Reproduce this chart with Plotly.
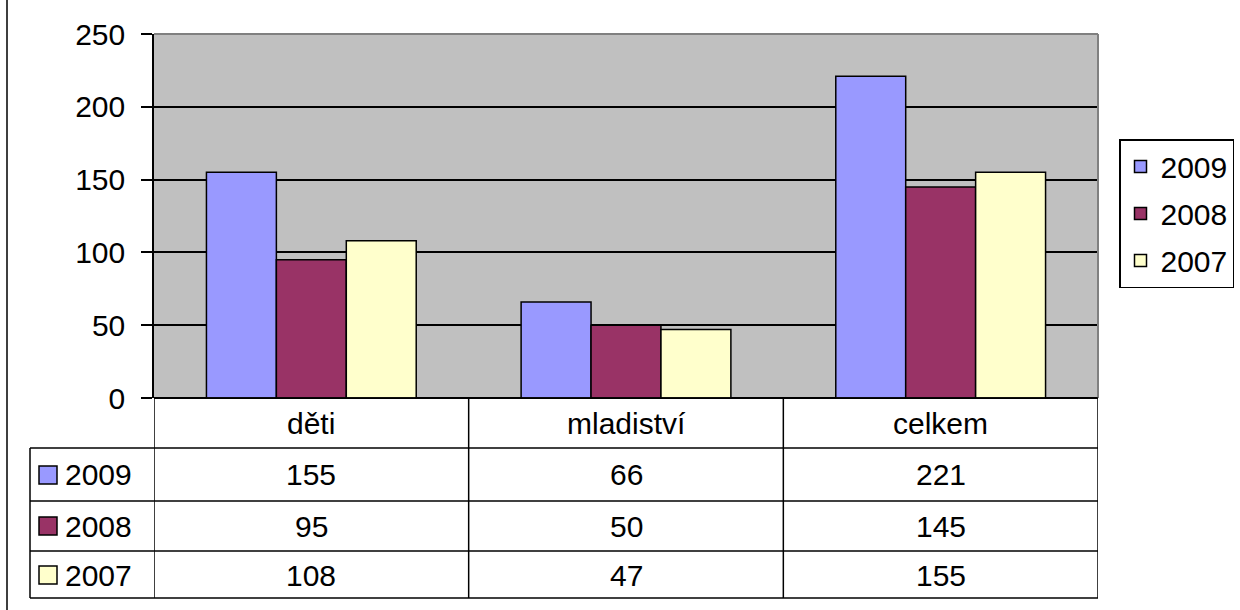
import plotly.graph_objects as go

categories = ["děti", "mladiství", "celkem"]
years = ["2009", "2008", "2007"]
v2009 = [155, 66, 221]
v2008 = [95, 50, 145]
v2007 = [108, 47, 155]
y_ticks = [0, 50, 100, 150, 200, 250]

colors = ["#9999FF", "#993366", "#FFFFCC"]
series = [v2009, v2008, v2007]
FONT = "Liberation Sans, Arial, sans-serif"

# plot area in pixels (figure is 1240x610)
L, R, T, B = 154, 1098, 34, 398
W, H = R - L, B - T


def px(x):
    return (x - L) / W


def py(y):
    return (B - y) / H


fig = go.Figure()
for i, (yr, vals) in enumerate(zip(years, series)):
    fig.add_trace(go.Bar(
        x=list(range(len(categories))), y=vals, name=yr,
        marker=dict(color=colors[i], line=dict(color="black", width=1.5)),
        legendgroup=yr,
    ))

shapes = []
annotations = []

# outer chart border (only left edge visible)
shapes.append(dict(type="rect", xref="paper", yref="paper",
                   x0=px(7), x1=px(1260), y0=py(640), y1=py(-20),
                   line=dict(color="black", width=1.5), layer="below"))
# plot area border top/right gray
shapes.append(dict(type="line", xref="paper", yref="paper", x0=0, x1=1, y0=1, y1=1,
                   line=dict(color="#808080", width=2)))
shapes.append(dict(type="line", xref="paper", yref="paper", x0=1, x1=1, y0=0, y1=1,
                   line=dict(color="#808080", width=2)))

# data table grid
row_edges = [398, 448, 501, 551, 598]
for k, yy in enumerate(row_edges):
    x0 = 0 if k == 0 else px(30)
    shapes.append(dict(type="line", xref="paper", yref="paper", x0=x0, x1=1,
                       y0=py(yy), y1=py(yy), line=dict(color="black", width=1.5)))
shapes.append(dict(type="line", xref="paper", yref="paper", x0=px(30), x1=px(30),
                   y0=py(448), y1=py(598), line=dict(color="black", width=1.5)))
for xb in [-0.5, 0.5, 1.5, 2.5]:
    shapes.append(dict(type="line", xref="x", yref="paper", x0=xb, x1=xb,
                       y0=py(398), y1=py(598), line=dict(color="black", width=1.5)))

tfont = dict(size=30, color="black", family=FONT)

# header row
for j, c in enumerate(categories):
    annotations.append(dict(x=j, y=py(423), xref="x", yref="paper", text=c,
                            xanchor="center", yanchor="middle",
                            showarrow=False, font=tfont))

row_centers = [475, 526, 575]
for i, (yr, vals) in enumerate(zip(years, series)):
    yc = row_centers[i]
    shapes.append(dict(type="rect", xref="paper", yref="paper",
                       x0=px(39), x1=px(57), y0=py(yc + 9), y1=py(yc - 9),
                       fillcolor=colors[i], line=dict(color="black", width=1.5)))
    annotations.append(dict(x=px(63), y=py(yc), xref="paper", yref="paper", text=yr,
                            xanchor="left", yanchor="middle", showarrow=False,
                            font=tfont))
    for j, v in enumerate(vals):
        annotations.append(dict(x=j, y=py(yc), xref="x", yref="paper", text=str(v),
                                xanchor="center", yanchor="middle",
                                showarrow=False, font=tfont))

fig.update_layout(
    width=1240, height=610,
    margin=dict(l=L, r=1240 - R, t=T, b=610 - B, pad=0, autoexpand=False),
    paper_bgcolor="white", plot_bgcolor="#C0C0C0",
    barmode="group", bargap=1 / 3, bargroupgap=0,
    font=dict(family=FONT, size=30, color="black"),
    showlegend=True,
    legend=dict(x=px(1119), y=py(139), xanchor="left", yanchor="top",
                bordercolor="black", borderwidth=1.5, bgcolor="white",
                font=dict(size=30, family=FONT), tracegroupgap=5,
                traceorder="grouped", itemwidth=30),
    xaxis=dict(range=[-0.5, 2.5], showticklabels=False, showgrid=False,
               zeroline=False, showline=False, ticks=""),
    yaxis=dict(range=[0, 250], tickvals=y_ticks, showgrid=True, gridcolor="black",
               gridwidth=1.5, zeroline=True, zerolinecolor="black", zerolinewidth=2,
               showline=True, linecolor="black", linewidth=1.5,
               ticks="outside", ticklen=11, tickcolor="black", tickwidth=1.5,
               ticklabelstandoff=10, tickfont=dict(size=30, family=FONT)),
    shapes=shapes, annotations=annotations,
)

fig.write_html("out.html", config={"displayModeBar": False},
               post_script="document.body.style.margin='0px';")
